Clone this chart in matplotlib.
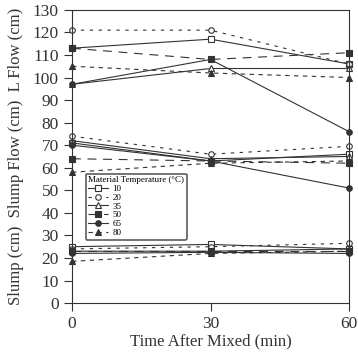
import matplotlib
matplotlib.use("Agg")
import matplotlib.pyplot as plt

plt.rcParams['font.family'] = ['Liberation Serif', 'DejaVu Serif']

times = [0, 30, 60]
temps = ["10", "20", "35", "50", "65", "80"]

lflow = {
    "10": [113, 117, 106],
    "20": [121, 121, 106],
    "35": [97, 104, 104],
    "50": [113, 108, 111],
    "65": [97, 108, 76],
    "80": [105, 102, 100],
}
slumpflow = {
    "10": [71, 63, 66],
    "20": [74, 66, 69.5],
    "35": [72, 64, 65],
    "50": [64, 63, 62],
    "65": [70, 63, 51],
    "80": [58, 62, 63],
}
slump = {
    "10": [25, 26, 24],
    "20": [24, 25, 26.5],
    "35": [23, 23, 24],
    "50": [23, 23, 23],
    "65": [22, 22.5, 22],
    "80": [18.5, 22, 23],
}

styles = {
    "10": dict(marker='s', mfc='white', ls='-'),
    "20": dict(marker='o', mfc='white', ls=(0, (3, 5))),
    "35": dict(marker='^', mfc='white', ls='-'),
    "50": dict(marker='s', mfc='#333333', ls=(0, (8, 6))),
    "65": dict(marker='o', mfc='#333333', ls='-'),
    "80": dict(marker='^', mfc='#333333', ls=(0, (4, 4))),
}

fig = plt.figure(figsize=(3.58, 3.52), dpi=100)
ax = fig.add_axes([0.201, 0.139, 0.774, 0.833])

for group in (lflow, slumpflow, slump):
    for t in temps:
        st = styles[t]
        ax.plot(times, group[t], color='#333333', lw=0.8, ls=st['ls'],
                marker=st['marker'], mfc=st['mfc'], mec='#333333',
                ms=4, mew=0.8, clip_on=False)

ax.set_xlim(0, 60)
ax.set_ylim(0, 130)
ax.set_xticks([0, 30, 60])
ax.set_yticks(range(0, 131, 10))
ax.tick_params(axis='both', direction='out', length=6, width=0.8,
               labelsize=12.5, color='#333333', labelcolor='#333333')
for s in ax.spines.values():
    s.set_linewidth(0.8)
    s.set_color('#333333')

ax.set_xlabel("Time After Mixed (min)", fontsize=12, color='#333333',
              labelpad=1)
ax.set_ylabel("Slump (cm)  Slump Flow (cm)  L Flow (cm)", fontsize=12,
              color='#333333', labelpad=6)

from matplotlib.lines import Line2D
handles = []
for t in temps:
    st = styles[t]
    handles.append(Line2D([], [], color='#333333', lw=0.8, ls=st['ls'],
                          marker=st['marker'], mfc=st['mfc'], mec='#333333',
                          ms=4, mew=0.8))
leg = ax.legend(handles, temps, title="Material Temperature (°C)",
                loc='upper left', bbox_to_anchor=(0.033, 0.457),
                fontsize=6.5, title_fontsize=6.5, frameon=True,
                fancybox=True, edgecolor='#333333', handlelength=2.2,
                labelspacing=0.05, borderpad=0.3, handletextpad=0.5)
leg._legend_box.align = "left"
leg.get_frame().set_linewidth(1.2)

fig.savefig("out.png", dpi=100)
